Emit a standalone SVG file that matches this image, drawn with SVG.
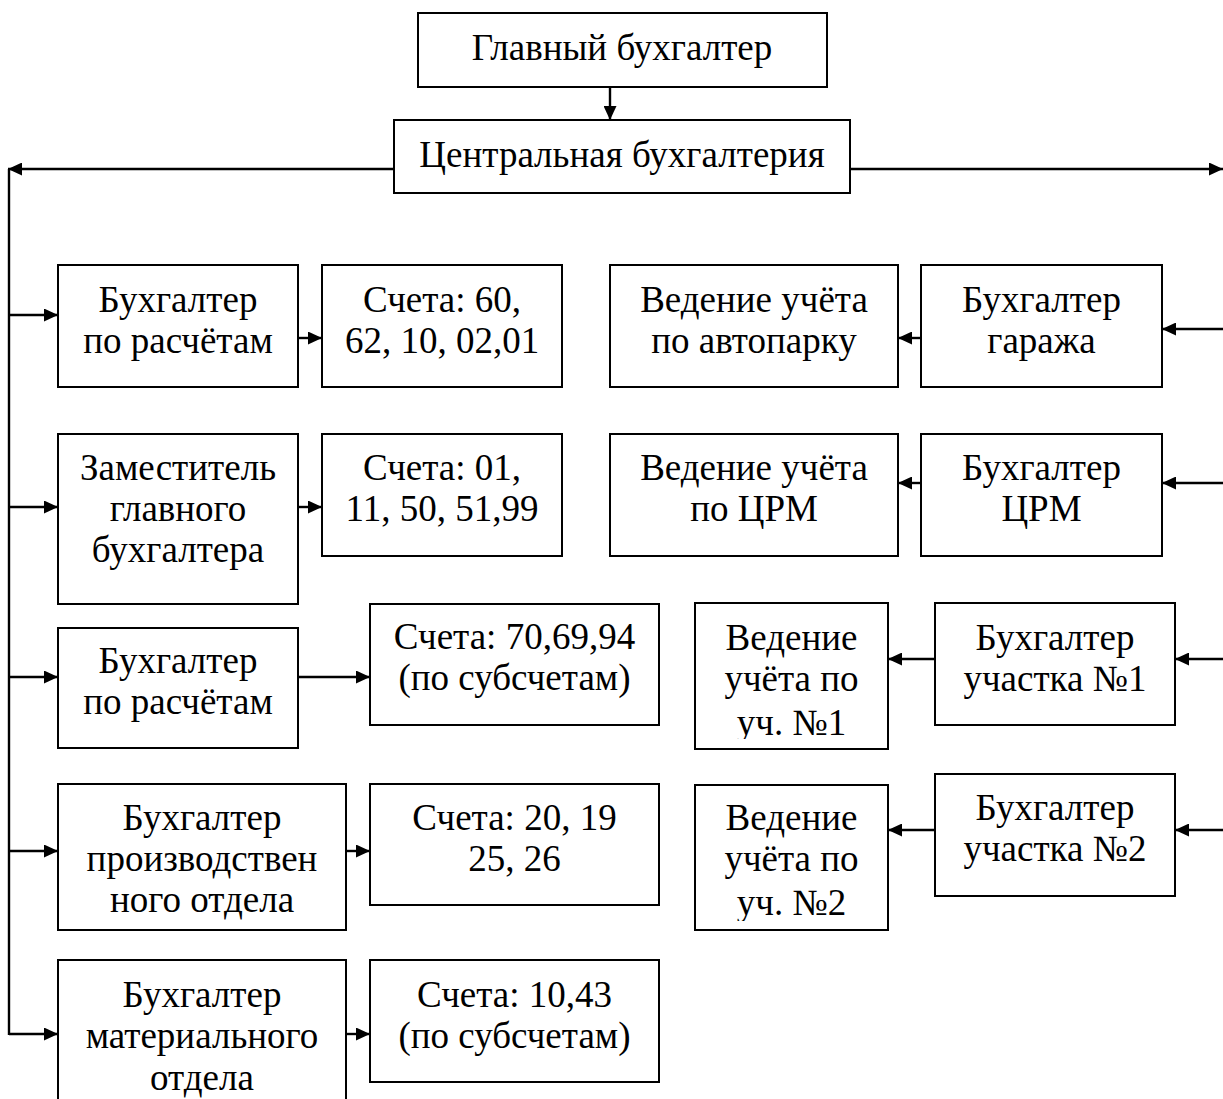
<svg xmlns="http://www.w3.org/2000/svg" width="1223" height="1099" viewBox="0 0 1223 1099">
<style>
.box{fill:#fff;stroke:#000;stroke-width:2}
.t{font-family:'Liberation Serif',serif;font-size:37px;fill:#000;text-anchor:middle}
.c{fill:none;stroke:#000;stroke-width:2.4}
.a{fill:none;stroke:#000;stroke-width:2.4;marker-end:url(#ah)}
</style>
<defs>
<marker id="ah" markerUnits="userSpaceOnUse" markerWidth="14" markerHeight="13" refX="14" refY="6.5" orient="auto">
<path d="M0,0 L14,6.5 L0,13 z" fill="#000"/>
</marker>
<clipPath id="cl1"><rect x="695" y="603" width="193" height="136"/></clipPath>
<clipPath id="cl2"><rect x="695" y="785" width="193" height="136"/></clipPath>
</defs>
<rect width="1223" height="1099" fill="#fff"/>
<g id="connectors">
<line class="a" x1="610" y1="87" x2="610" y2="120"/>
<line class="a" x1="394" y1="169" x2="8" y2="169"/>
<line class="a" x1="850" y1="169" x2="1223" y2="169"/>
<line class="c" x1="9" y1="169" x2="9" y2="1035"/>
<line class="a" x1="9" y1="315" x2="58" y2="315"/>
<line class="a" x1="9" y1="507" x2="58" y2="507"/>
<line class="a" x1="9" y1="677" x2="58" y2="677"/>
<line class="a" x1="9" y1="851" x2="58" y2="851"/>
<line class="a" x1="9" y1="1034" x2="58" y2="1034"/>
<line class="a" x1="298" y1="338" x2="322" y2="338"/>
<line class="a" x1="298" y1="507" x2="322" y2="507"/>
<line class="a" x1="298" y1="677" x2="370" y2="677"/>
<line class="a" x1="346" y1="851" x2="370" y2="851"/>
<line class="a" x1="346" y1="1034" x2="370" y2="1034"/>
<line class="a" x1="921" y1="338" x2="898" y2="338"/>
<line class="a" x1="921" y1="483" x2="898" y2="483"/>
<line class="a" x1="935" y1="659" x2="888" y2="659"/>
<line class="a" x1="935" y1="830" x2="888" y2="830"/>
<line class="a" x1="1223" y1="329" x2="1162" y2="329"/>
<line class="a" x1="1223" y1="483" x2="1162" y2="483"/>
<line class="a" x1="1223" y1="659" x2="1175" y2="659"/>
<line class="a" x1="1223" y1="830" x2="1175" y2="830"/>
</g>
<g id="n-main"><rect class="box" x="418" y="13" width="409" height="74"/><text class="t" x="622" y="60">Главный бухгалтер</text></g>
<g id="n-central"><rect class="box" x="394" y="120" width="456" height="73"/><text class="t" x="622" y="167">Центральная бухгалтерия</text></g>
<g id="n1"><rect class="box" x="58" y="265" width="240" height="122"/><text class="t" x="178" y="312">Бухгалтер</text><text class="t" x="178" y="353">по расчётам</text></g>
<g id="n2"><rect class="box" x="322" y="265" width="240" height="122"/><text class="t" x="442" y="312">Счета: 60,</text><text class="t" x="442" y="353">62, 10, 02,01</text></g>
<g id="n3"><rect class="box" x="610" y="265" width="288" height="122"/><text class="t" x="754" y="312">Ведение учёта</text><text class="t" x="754" y="353">по автопарку</text></g>
<g id="n4"><rect class="box" x="921" y="265" width="241" height="122"/><text class="t" x="1041.5" y="312">Бухгалтер</text><text class="t" x="1041.5" y="353">гаража</text></g>
<g id="n5"><rect class="box" x="58" y="434" width="240" height="170"/><text class="t" x="178" y="480">Заместитель</text><text class="t" x="178" y="521">главного</text><text class="t" x="178" y="562">бухгалтера</text></g>
<g id="n6"><rect class="box" x="322" y="434" width="240" height="122"/><text class="t" x="442" y="480">Счета: 01,</text><text class="t" x="442" y="521">11, 50, 51,99</text></g>
<g id="n7"><rect class="box" x="610" y="434" width="288" height="122"/><text class="t" x="754" y="480">Ведение учёта</text><text class="t" x="754" y="521">по ЦРМ</text></g>
<g id="n8"><rect class="box" x="921" y="434" width="241" height="122"/><text class="t" x="1041.5" y="480">Бухгалтер</text><text class="t" x="1041.5" y="521">ЦРМ</text></g>
<g id="n9"><rect class="box" x="58" y="628" width="240" height="120"/><text class="t" x="178" y="673">Бухгалтер</text><text class="t" x="178" y="714">по расчётам</text></g>
<g id="n10"><rect class="box" x="370" y="604" width="289" height="121"/><text class="t" x="514.5" y="649">Счета: 70,69,94</text><text class="t" x="514.5" y="690">(по субсчетам)</text></g>
<g id="n11"><rect class="box" x="695" y="603" width="193" height="146"/><g clip-path="url(#cl1)"><text class="t" x="791.5" y="650">Ведение</text><text class="t" x="791.5" y="691">учёта по</text><text class="t" x="791.5" y="735">уч. №1</text></g></g>
<g id="n12"><rect class="box" x="935" y="603" width="240" height="122"/><text class="t" x="1055" y="650">Бухгалтер</text><text class="t" x="1055" y="691">участка №1</text></g>
<g id="n13"><rect class="box" x="58" y="784" width="288" height="146"/><text class="t" x="202" y="830">Бухгалтер</text><text class="t" x="202" y="871">производствен</text><text class="t" x="202" y="912">ного отдела</text></g>
<g id="n14"><rect class="box" x="370" y="784" width="289" height="121"/><text class="t" x="514.5" y="830">Счета: 20, 19</text><text class="t" x="514.5" y="871">25, 26</text></g>
<g id="n15"><rect class="box" x="695" y="785" width="193" height="145"/><g clip-path="url(#cl2)"><text class="t" x="791.5" y="830">Ведение</text><text class="t" x="791.5" y="871">учёта по</text><text class="t" x="791.5" y="915">уч. №2</text></g></g>
<g id="n16"><rect class="box" x="935" y="774" width="240" height="122"/><text class="t" x="1055" y="820">Бухгалтер</text><text class="t" x="1055" y="861">участка №2</text></g>
<g id="n17"><rect class="box" x="58" y="960" width="288" height="160"/><text class="t" x="202" y="1007">Бухгалтер</text><text class="t" x="202" y="1048">материального</text><text class="t" x="202" y="1090">отдела</text></g>
<g id="n18"><rect class="box" x="370" y="960" width="289" height="122"/><text class="t" x="514.5" y="1007">Счета: 10,43</text><text class="t" x="514.5" y="1048">(по субсчетам)</text></g>
</svg>
